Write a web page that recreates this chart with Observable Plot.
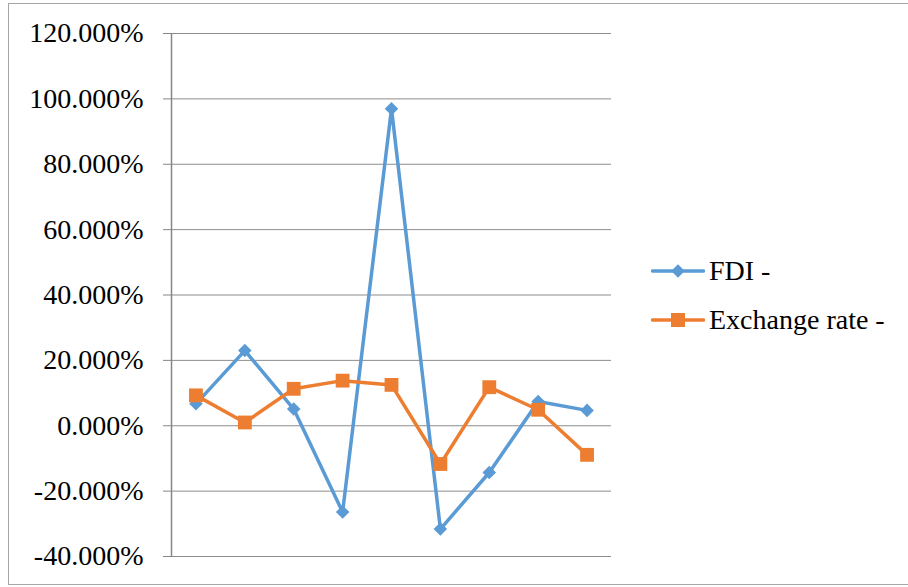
<!DOCTYPE html>
<html>
<head>
<meta charset="utf-8">
<style>
  html, body { margin: 0; padding: 0; background: #fff; }
  #wrap { position: relative; width: 908px; height: 587px; overflow: hidden; font-family: 'Liberation Serif', serif; }
  #border { position: absolute; left: 8px; top: 3px; width: 910px; height: 582px; border: 1px solid #a6a6a6; box-sizing: border-box; }
  #chart { position: absolute; left: 0; top: 0; }
  .legend { position: absolute; left: 651px; height: 36px; font-size: 28px; color: #000; display: flex; align-items: center; white-space: nowrap; font-family: 'Liberation Serif', serif; }
  .legend svg { margin-right: 4px; }
</style>
<script src="https://cdn.jsdelivr.net/npm/d3@7"></script>
<script src="https://cdn.jsdelivr.net/npm/@observablehq/plot@0.6"></script>
</head>
<body>
<div id="wrap">
  <div id="border"></div>
  <div id="chart"></div>
  <div class="legend" style="top:253px">
    <svg width="54" height="36"><line x1="1.5" x2="52.5" y1="18" y2="18" stroke="#5B9BD5" stroke-width="3.5" stroke-linecap="round"/><rect x="-4.8" y="-4.8" width="9.6" height="9.6" transform="translate(27,18) rotate(45)" fill="#5B9BD5"/></svg><span id="lg0"></span>
  </div>
  <div class="legend" style="top:302px">
    <svg width="54" height="36"><line x1="1.5" x2="52.5" y1="18" y2="18" stroke="#ED7D31" stroke-width="3.5" stroke-linecap="round"/><rect x="20" y="11" width="14" height="14" fill="#ED7D31"/></svg><span id="lg1"></span>
  </div>
</div>
<script>
// Periods along the horizontal axis (unlabelled)
const periods = [1, 2, 3, 4, 5, 6, 7, 8, 9];

// Year-on-year growth rates (fractions)
const fdi = [0.067, 0.230, 0.051, -0.264, 0.970, -0.316, -0.143, 0.074, 0.047];
const exchangeRate = [0.093, 0.010, 0.113, 0.138, 0.125, -0.117, 0.118, 0.049, -0.089];

// Vertical axis ticks
const yTicks = [-0.4, -0.2, 0, 0.2, 0.4, 0.6, 0.8, 1.0, 1.2];

const seriesNames = ["FDI -", "Exchange rate -"];
const colors = ["#5B9BD5", "#ED7D31"];

const rowsFdi = periods.map((p, i) => ({period: p, value: fdi[i]}));
const rowsEx = periods.map((p, i) => ({period: p, value: exchangeRate[i]}));

const fmt = v => (v * 100).toFixed(3) + "%";
const serif = "'Liberation Serif', serif";

const chart = Plot.plot({
  width: 908,
  height: 587,
  marginLeft: 171,
  marginRight: 297,
  marginTop: 33,
  marginBottom: 31,
  style: {fontFamily: serif, fontSize: "28px", background: "transparent"},
  x: {domain: [0.5, periods.length + 0.5], axis: null},
  y: {domain: [-0.4, 1.2], axis: null},
  marks: [
    Plot.ruleY(yTicks, {stroke: "#8c8c8c", strokeWidth: 1}),
    Plot.ruleX([0.5], {y1: -0.4, y2: 1.2, stroke: "#868686", strokeWidth: 1.5}),
    Plot.axisY({
      ticks: yTicks,
      tickFormat: fmt,
      tickSize: 8,
      tickPadding: 20,
      stroke: "#868686",
      fill: "#000",
      fontSize: 28,
      fontFamily: serif,
      label: null
    }),
    Plot.line(rowsFdi, {x: "period", y: "value", stroke: colors[0], strokeWidth: 3.5, strokeLinejoin: "round"}),
    Plot.dot(rowsFdi, {x: "period", y: "value", symbol: "square", r: 5.4, rotate: 45, fill: colors[0], stroke: "none"}),
    Plot.line(rowsEx, {x: "period", y: "value", stroke: colors[1], strokeWidth: 3.5, strokeLinejoin: "round"}),
    Plot.dot(rowsEx, {x: "period", y: "value", symbol: "square", r: 7.8, fill: colors[1], stroke: "none"})
  ]
});
document.getElementById("chart").appendChild(chart);

// Legend labels
seriesNames.forEach((name, i) => { document.getElementById("lg" + i).textContent = name; });
</script>
</body>
</html>
